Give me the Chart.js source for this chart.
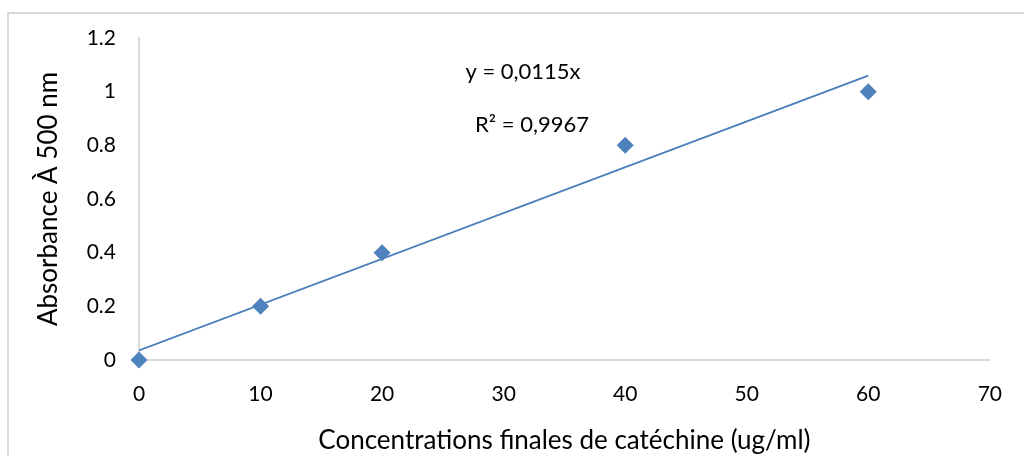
<!DOCTYPE html>
<html>
<head>
<meta charset="utf-8">
<script src="https://cdn.jsdelivr.net/npm/chart.js@4/dist/chart.umd.min.js"></script>
<style>
  html, body { margin: 0; padding: 0; background: #fff; overflow: hidden; }
  #frame { position: absolute; left: 7px; top: 12px; width: 1100px; height: 500px;
           border: 2px solid #d9d9d9; box-sizing: border-box; }
  #wrap { position: absolute; left: 0; top: 0; width: 1024px; height: 456px; }
</style>
</head>
<body>
<div id="frame"></div>
<div id="wrap"><canvas id="c" width="1024" height="456"></canvas></div>
<script>
// Catechin calibration: measured absorbance at 500 nm
const concentrations = [0, 10, 20, 40, 60];
const absorbances = [0, 0.2, 0.4, 0.8, 1.0];

// Fitted trend line end points
const trendX = [0, 60];
const trendY = [0.036, 1.06];

// Axis ticks
const xTicks = [0, 10, 20, 30, 40, 50, 60, 70];
const yTicks = [0, 0.2, 0.4, 0.6, 0.8, 1, 1.2];

const equationLabel = 'y = 0,0115x';
const r2Label = 'R² = 0,9967';

const FONT = 'Lato, "Open Sans", sans-serif';
const BLUE = '#4f81bd';
const AXIS = '#d9d9d9';

const equationPlugin = {
  id: 'equation',
  afterDatasetsDraw(chart) {
    const { ctx, chartArea } = chart;
    ctx.save();
    ctx.fillStyle = '#000';
    ctx.font = '22px ' + FONT;
    ctx.textAlign = 'center';
    ctx.textBaseline = 'middle';
    ctx.fillText(equationLabel, chartArea.left + 384, chartArea.top + 34);
    ctx.fillText(r2Label, chartArea.left + 393, chartArea.top + 87);
    ctx.restore();
  }
};

new Chart(document.getElementById('c'), {
  type: 'scatter',
  data: {
    datasets: [
      {
        label: 'Trend',
        type: 'line',
        data: trendX.map((x, i) => ({ x, y: trendY[i] })),
        borderColor: '#4a7ebb',
        borderWidth: 1.8,
        pointRadius: 0,
        fill: false,
        order: 2
      },
      {
        label: 'Absorbance',
        data: concentrations.map((x, i) => ({ x, y: absorbances[i] })),
        pointStyle: 'rectRot',
        pointRadius: 8.5,
        pointHoverRadius: 8.5,
        backgroundColor: BLUE,
        borderColor: BLUE,
        borderWidth: 0,
        clip: false,
        order: 1
      }
    ]
  },
  options: {
    responsive: false,
    animation: false,
    events: [],
    layout: { padding: { left: 0, right: 31, top: 38, bottom: 0 } },
    plugins: { legend: { display: false }, tooltip: { enabled: false } },
    scales: {
      x: {
        type: 'linear',
        min: 0, max: 70,
        afterBuildTicks(scale) { scale.ticks = xTicks.map(v => ({ value: v })); },
        afterFit(scale) { scale.height = 96; },
        grid: { display: false, drawTicks: false },
        border: { display: true, color: AXIS, width: 2 },
        ticks: {
          color: '#000', padding: 22,
          font: { family: FONT, size: 21 },
          callback: v => String(v)
        },
        title: {
          display: true,
          text: 'Concentrations finales de catéchine (ug/ml)',
          color: '#000',
          font: { family: FONT, size: 26 },
          padding: { top: 2, bottom: 0 }
        }
      },
      y: {
        type: 'linear',
        min: 0, max: 1.2,
        afterBuildTicks(scale) { scale.ticks = yTicks.map(v => ({ value: v })); },
        afterFit(scale) { scale.width = 139; },
        grid: { display: false, drawTicks: false },
        border: { display: true, color: AXIS, width: 2 },
        ticks: {
          color: '#000', padding: 23,
          font: { family: FONT, size: 21 },
          callback: v => String(Math.round(v * 10) / 10)
        },
        title: {
          display: true,
          text: 'Absorbance À 500 nm',
          color: '#000',
          font: { family: FONT, size: 26 },
          padding: { top: 33, bottom: 0 }
        }
      }
    }
  },
  plugins: [equationPlugin]
});
</script>
</body>
</html>
